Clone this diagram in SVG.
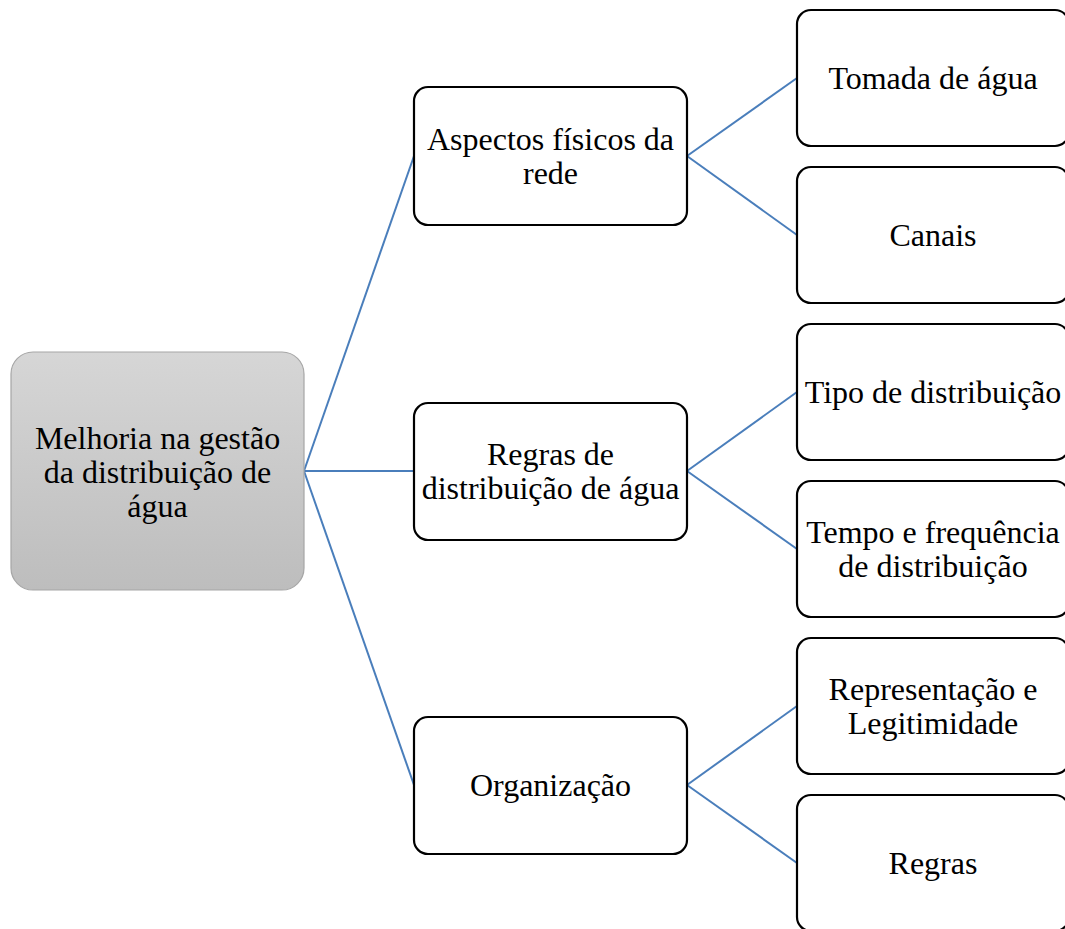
<svg xmlns="http://www.w3.org/2000/svg" width="1065" height="929" viewBox="0 0 1065 929">
<defs>
<linearGradient id="rootGrad" x1="0" y1="0" x2="0" y2="1">
<stop offset="0" stop-color="#d6d6d6"/>
<stop offset="1" stop-color="#bdbdbd"/>
</linearGradient>
<style>
.box{fill:#ffffff;stroke:#000000;stroke-width:2.2}
.root{fill:url(#rootGrad);stroke:#a6a6a6;stroke-width:1.2}
.conn{stroke:#4a7ebb;stroke-width:2;fill:none}
text{font-family:"Liberation Serif","Times New Roman",serif;font-size:32px;fill:#000000;text-anchor:middle}
</style>
</defs>
<rect width="1065" height="929" fill="#ffffff"/>
<g id="connectors">
<line class="conn" x1="304" y1="471" x2="414" y2="156"/>
<line class="conn" x1="304" y1="471" x2="414" y2="471"/>
<line class="conn" x1="304" y1="471" x2="414" y2="785"/>
<line class="conn" x1="687" y1="156" x2="797" y2="78"/>
<line class="conn" x1="687" y1="156" x2="797" y2="235"/>
<line class="conn" x1="687" y1="471" x2="797" y2="392"/>
<line class="conn" x1="687" y1="471" x2="797" y2="549"/>
<line class="conn" x1="687" y1="785" x2="797" y2="706"/>
<line class="conn" x1="687" y1="785" x2="797" y2="863"/>
</g>
<g id="root">
<rect class="root" x="11" y="352" width="293" height="238" rx="22"/>
<text x="157.5" y="449">Melhoria na gestão</text>
<text x="157.5" y="483">da distribuição de</text>
<text x="157.5" y="517">água</text>
</g>
<g id="aspectos">
<rect class="box" x="414" y="87" width="273" height="138" rx="14"/>
<text x="550.5" y="150">Aspectos físicos da</text>
<text x="550.5" y="184">rede</text>
</g>
<g id="regras-distribuicao">
<rect class="box" x="414" y="403" width="273" height="137" rx="14"/>
<text x="550.5" y="465">Regras de</text>
<text x="550.5" y="499">distribuição de água</text>
</g>
<g id="organizacao">
<rect class="box" x="414" y="717" width="273" height="137" rx="14"/>
<text x="550.5" y="796">Organização</text>
</g>
<g id="tomada">
<rect class="box" x="797" y="10" width="272" height="136" rx="14"/>
<text x="933" y="89">Tomada de água</text>
</g>
<g id="canais">
<rect class="box" x="797" y="167" width="272" height="136" rx="14"/>
<text x="933" y="246">Canais</text>
</g>
<g id="tipo">
<rect class="box" x="797" y="324" width="272" height="136" rx="14"/>
<text x="933" y="403">Tipo de distribuição</text>
</g>
<g id="tempo">
<rect class="box" x="797" y="481" width="272" height="136" rx="14"/>
<text x="933" y="543">Tempo e frequência</text>
<text x="933" y="577">de distribuição</text>
</g>
<g id="representacao">
<rect class="box" x="797" y="638" width="272" height="136" rx="14"/>
<text x="933" y="700">Representação e</text>
<text x="933" y="734">Legitimidade</text>
</g>
<g id="regras">
<rect class="box" x="797" y="795" width="272" height="136" rx="14"/>
<text x="933" y="874">Regras</text>
</g>
</svg>
